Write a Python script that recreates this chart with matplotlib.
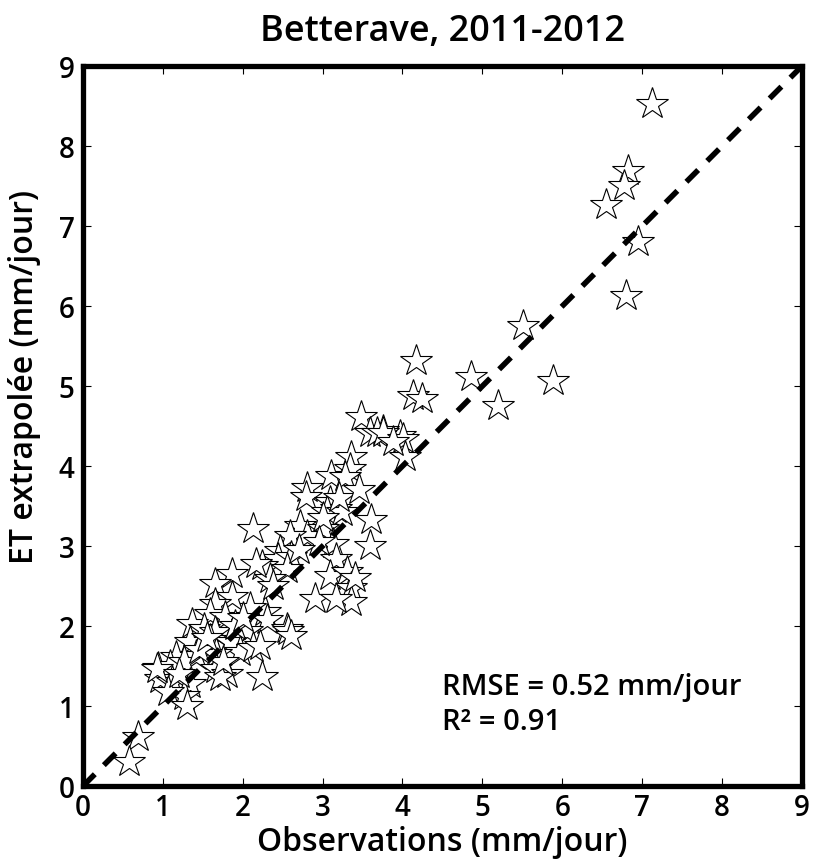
import matplotlib
matplotlib.use("Agg")
import matplotlib.pyplot as plt

plt.rcParams['font.family'] = ['Open Sans', 'DejaVu Sans']

title = "Betterave, 2011-2012"
xlabel = "Observations (mm/jour)"
ylabel = "ET extrapolée (mm/jour)"
rmse_text = "RMSE = 0.52 mm/jour"
r2_text = "R² = 0.91"
ticks = [0, 1, 2, 3, 4, 5, 6, 7, 8, 9]

obs = [7.12, 6.82, 6.78, 6.55, 6.95, 6.80, 5.51, 5.89, 5.20, 4.86,
       4.17, 4.13, 4.24, 3.97, 3.76, 3.48, 3.59, 3.68, 3.76, 4.01,
       4.03, 3.88, 3.35, 3.34, 3.11, 3.28, 2.80, 2.79, 3.09, 3.17,
       3.05, 3.24, 3.61, 2.13, 2.72, 2.80, 2.59, 3.01, 3.13, 3.59,
       2.47, 2.44, 2.61, 2.24, 2.55, 3.17, 3.09, 3.30, 2.34, 1.86,
       1.65, 3.36, 2.90, 3.36, 3.17, 2.28, 2.09, 2.17, 2.38, 1.86,
       1.65, 1.59, 1.78, 2.30, 2.55, 1.36, 1.51, 1.65, 2.05, 1.34,
       1.59, 1.84, 1.96, 2.13, 1.17, 1.42, 1.67, 1.67, 1.80, 0.94,
       1.09, 1.26, 2.24, 0.96, 1.11, 1.34, 1.26, 1.07, 1.30, 2.57,
       2.60, 2.22, 1.71, 0.92, 0.69, 0.57, 3.40, 3.00, 2.95, 2.70,
       1.90, 1.45, 1.20, 1.75, 2.00, 1.55, 3.20, 3.45]
est = [8.53, 7.69, 7.50, 7.27, 6.80, 6.13, 5.75, 5.07, 4.75, 5.11,
       5.32, 4.88, 4.84, 4.38, 4.44, 4.61, 4.42, 4.42, 4.42, 4.34,
       4.11, 4.30, 4.11, 3.96, 3.88, 3.86, 3.73, 3.61, 3.55, 3.46,
       3.42, 3.42, 3.32, 3.21, 3.25, 3.13, 3.13, 3.21, 3.03, 3.00,
       2.94, 2.84, 2.86, 2.75, 2.71, 2.84, 2.63, 2.67, 2.59, 2.65,
       2.53, 2.48, 2.34, 2.30, 2.34, 2.17, 2.23, 2.78, 2.50, 2.36,
       2.28, 2.15, 2.11, 2.07, 1.96, 2.03, 1.96, 1.92, 1.94, 1.80,
       1.82, 1.80, 1.67, 1.73, 1.61, 1.63, 1.65, 1.46, 1.40, 1.48,
       1.50, 1.55, 1.36, 1.34, 1.30, 1.28, 1.13, 1.17, 1.00, 1.94,
       1.88, 1.75, 1.36, 1.46, 0.61, 0.30, 2.60, 3.35, 3.05, 2.95,
       2.00, 1.70, 1.40, 1.55, 2.10, 1.85, 3.60, 3.70]

fig = plt.figure(figsize=(8.14, 8.62), dpi=100)
ax = fig.add_axes([0.102, 0.087, 0.883, 0.835])

ax.plot(obs, est, linestyle='none', marker='*', markersize=24,
        markerfacecolor='white', markeredgecolor='black', markeredgewidth=0.8)
ax.plot([0, 9], [0, 9], color='black', linewidth=4, dashes=(3, 2.3))

ax.set_xlim(0, 9)
ax.set_ylim(0, 9)
ax.set_xticks(ticks)
ax.set_yticks(ticks)
ax.tick_params(direction='in', length=6, width=0.8, labelsize=20,
               top=True, right=True)
ax.tick_params(axis='x', pad=5)
ax.tick_params(axis='y', pad=6)
for lab in ax.get_xticklabels() + ax.get_yticklabels():
    lab.set_fontweight('semibold')
for sp in ax.spines.values():
    sp.set_linewidth(3.8)

ax.set_title(title, fontsize=26, fontweight='semibold', pad=19)
ax.set_xlabel(xlabel, fontsize=23, fontweight='semibold', labelpad=2)
ax.set_ylabel(ylabel, fontsize=23, fontweight='semibold')
ax.yaxis.set_label_coords(-0.058, 0.57)

ax.text(4.5, 1.25, rmse_text, fontsize=21, fontweight='semibold', va='center', ha='left')
ax.text(4.5, 0.81, r2_text, fontsize=21, fontweight='semibold', va='center', ha='left')

fig.savefig("out.png", dpi=100)
